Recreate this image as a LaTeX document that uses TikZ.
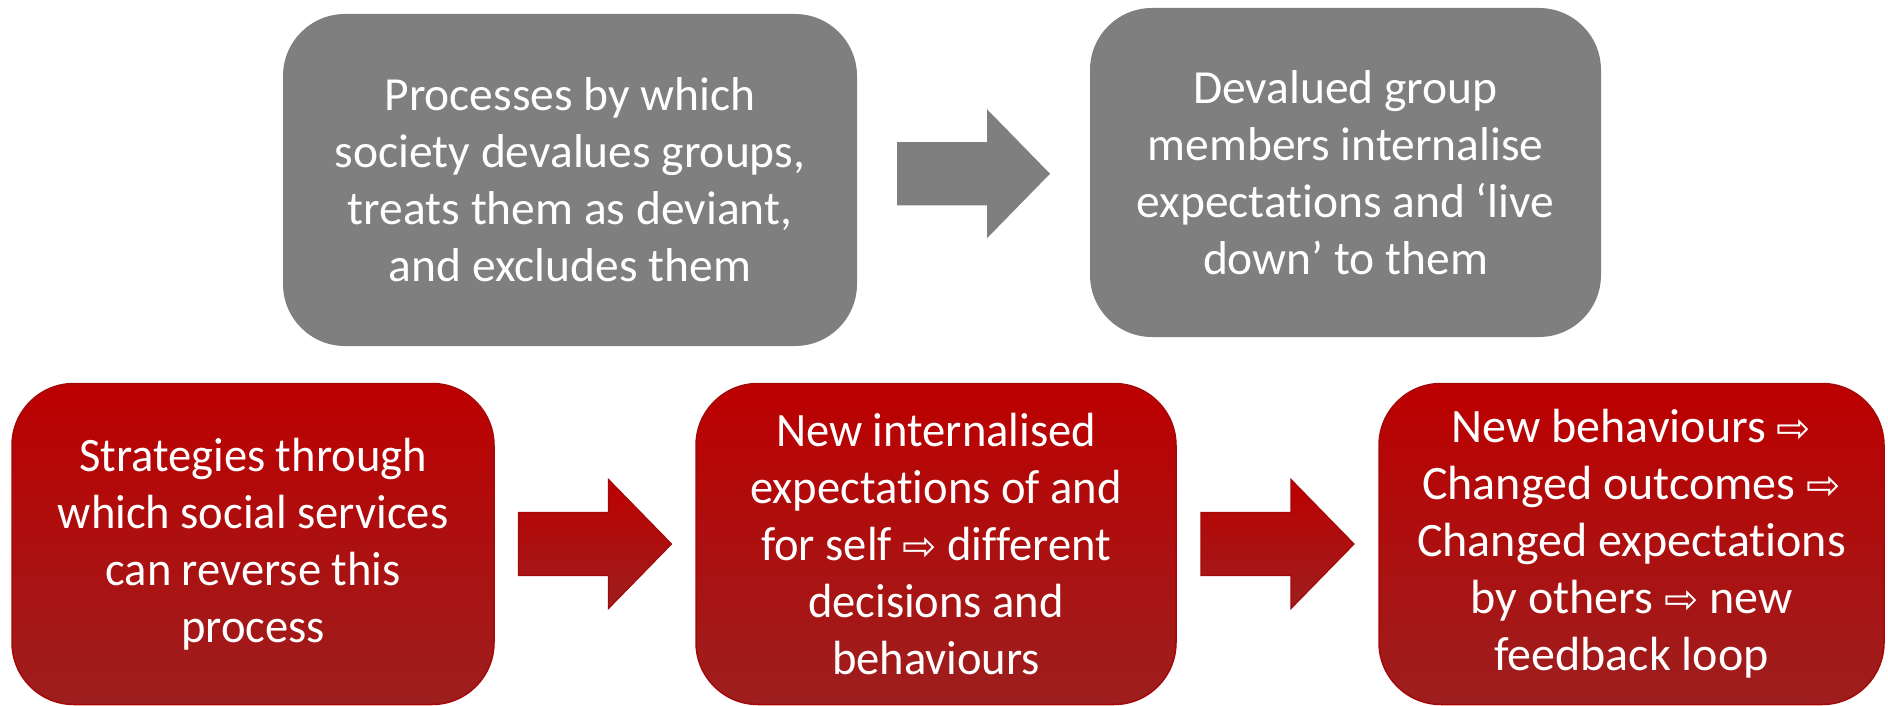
\documentclass[tikz,border=0pt]{standalone}
\usepackage{fontspec}
\setmainfont[Ligatures=NoCommon]{Carlito}
\newfontfamily\arrowfont{DejaVu Sans}
\newfontfamily\condfont[FakeStretch=0.97,Ligatures=NoCommon]{Carlito}
\usetikzlibrary{calc}
\definecolor{boxgray}{RGB}{127,127,127}
\definecolor{redtop}{RGB}{188,0,0}
\definecolor{redbot}{RGB}{157,31,31}
\definecolor{redline}{RGB}{165,8,8}
\newcommand{\ra}{{\arrowfont\fontsize{41}{57}\selectfont\char"21E8}}
\tikzset{
  gbox/.style={rounded corners=62pt, fill=boxgray, text=white, align=center, inner sep=0pt,
    font=\fontsize{47.5}{57}\selectfont},
  rbox/.style={rounded corners=62pt, top color=redtop, bottom color=redbot, draw=redline,
    line width=1.5pt, text=white, align=center, inner sep=0pt, font=\fontsize{48}{57}\selectfont},
  garrow/.style={fill=boxgray},
  rarrow/.style={top color=redtop, bottom color=redbot, draw=redline, line width=1.2pt}
}
\begin{document}
\begin{tikzpicture}[x=1pt,y=1pt]
\useasboundingbox (0,0) rectangle (1888,-706);
\node[gbox, minimum width=574pt, minimum height=332pt] (g1) at (570,-180)
  {Processes by which\\society devalues groups,\\treats them as deviant,\\and excludes them};
\node[gbox, minimum width=511pt, minimum height=329pt] (g2) at (1345.5,-172.5)
  {Devalued group\\members internalise\\expectations and ‘live\\down’ to them};
\node[rbox, minimum width=482pt, minimum height=321pt] (r1) at (253,-544)
  {\condfont Strategies through\\\condfont which social services\\\condfont can reverse this\\\condfont process};
\node[rbox, minimum width=480pt, minimum height=321pt] (r2) at (936,-544)
  {\condfont New internalised\\\condfont expectations of and\\\condfont for self \ra{} different\\\condfont decisions and\\\condfont behaviours};
\node[rbox, minimum width=505pt, minimum height=321pt] (r3) at (1631.5,-544)
  {New behaviours \ra\\Changed outcomes \ra\\Changed expectations\\by others \ra{} new\\feedback loop};
\coordinate (c0) at ($(g1.east)!0.5!(g2.west)+(0,2.5)$);
\coordinate (c1) at ($(r1.east)!0.5!(r2.west)$);
\coordinate (c2) at ($(r2.east)!0.5!(r3.west)$);
\foreach \c/\s in {c0/garrow,c1/rarrow,c2/rarrow}{
  \path[\s] ($(\c)+(-76.5,31.5)$) -- ($(\c)+(13.5,31.5)$) -- ($(\c)+(13.5,64.5)$)
    -- ($(\c)+(76.5,0)$) -- ($(\c)+(13.5,-64.5)$) -- ($(\c)+(13.5,-31.5)$)
    -- ($(\c)+(-76.5,-31.5)$) -- cycle;
}
\end{tikzpicture}
\end{document}
